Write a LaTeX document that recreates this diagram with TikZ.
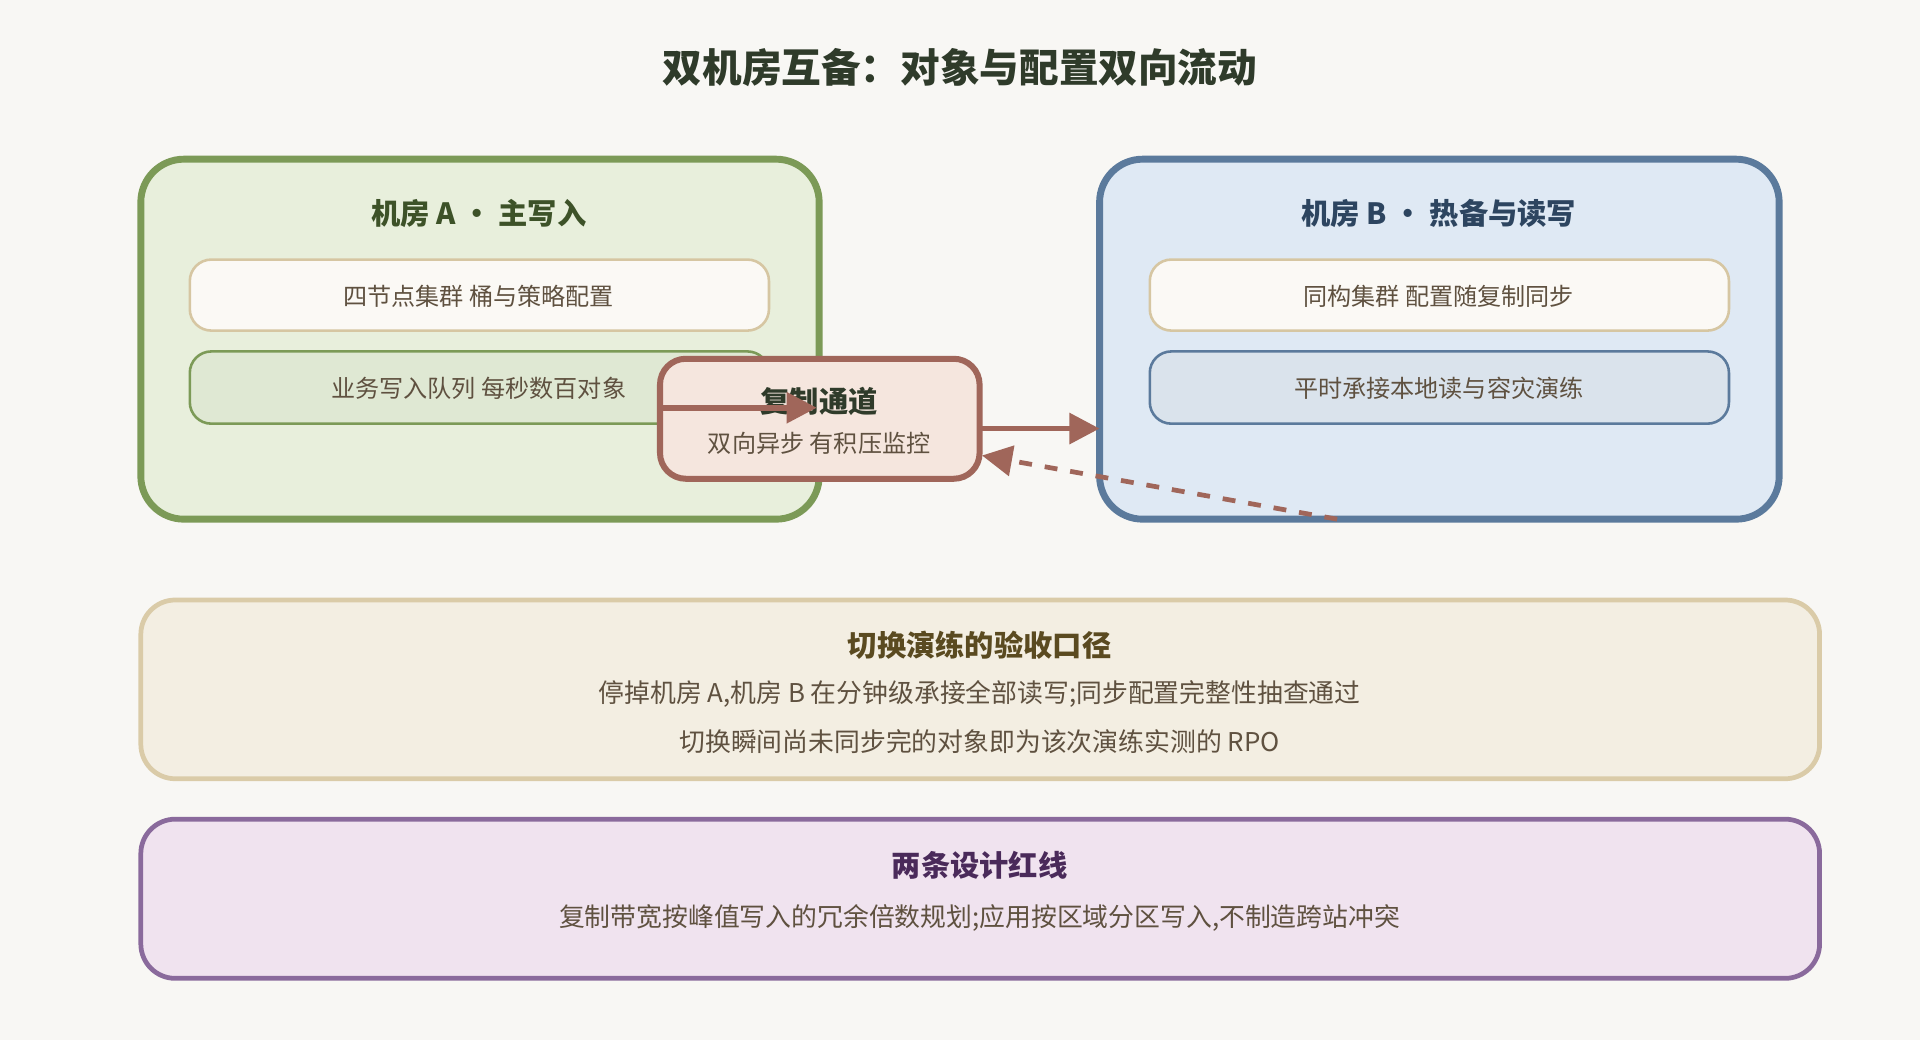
\documentclass[tikz,border=0pt]{standalone}
\usepackage{fontspec}
\setmainfont{Noto Sans CJK SC}
\usetikzlibrary{arrows.meta}
\definecolor{bg}{HTML}{F8F7F4}
\definecolor{title_dark}{HTML}{2F3B2A}
\definecolor{green_fill}{HTML}{E8EFDC}
\definecolor{green_line}{HTML}{7C9A57}
\definecolor{green_text}{HTML}{3D5228}
\definecolor{green_inner}{HTML}{DFE8D3}
\definecolor{blue_fill}{HTML}{DFE9F4}
\definecolor{blue_line}{HTML}{5B7A9C}
\definecolor{blue_text}{HTML}{2D4560}
\definecolor{blue_inner}{HTML}{DAE3EC}
\definecolor{paper_fill}{HTML}{FBF9F5}
\definecolor{paper_line}{HTML}{D6C6A2}
\definecolor{rep_fill}{HTML}{F5E6DE}
\definecolor{rep_line}{HTML}{A0665A}
\definecolor{sand_fill}{HTML}{F3EEE2}
\definecolor{sand_line}{HTML}{DACBA8}
\definecolor{sand_text}{HTML}{5A4A20}
\definecolor{purple_fill}{HTML}{F0E3EF}
\definecolor{purple_line}{HTML}{8A6A9C}
\definecolor{purple_text}{HTML}{4A2A5A}
\definecolor{body_text}{HTML}{5F5140}
\tikzset{
  room/.style={rounded corners=10pt, line width=1.6pt},
  card/.style={rounded corners=5pt, line width=0.6pt},
  hd/.style={font=\fontsize{6.8}{8}\selectfont\bfseries},
  tx/.style={font=\fontsize{5.6}{7}\selectfont, text=body_text},
  txw/.style={font=\fontsize{6.0}{7}\selectfont, text=body_text},
  flow/.style={-{Triangle[length=7pt,width=7pt]}, rep_line, line width=1.3pt}
}
\begin{document}
\begin{tikzpicture}[x=0.01cm,y=-0.01cm]

    % fond
    \fill[bg] (0,0) rectangle (1568,849);
    \node[font=\fontsize{9.2}{11}\selectfont\bfseries, text=title_dark] (title) at (784,55) {双机房互备：对象与配置双向流动};

    % machine room A
    \draw[room, fill=green_fill, draw=green_line] (115,130) rectangle (669,424);
    \node[hd, text=green_text] (roomA) at (391,174) {机房 A · 主写入};
    \draw[card, fill=paper_fill, draw=paper_line] (155,212) rectangle (628,270);
    \node[tx] (clusterA) at (391,242) {四节点集群 桶与策略配置};
    \draw[card, fill=green_inner, draw=green_line] (155,287) rectangle (628,346);
    \node[tx] (queueA) at (391,317) {业务写入队列 每秒数百对象};

    % machine room B
    \draw[room, fill=blue_fill, draw=blue_line] (898,130) rectangle (1453,424);
    \node[hd, text=blue_text] (roomB) at (1175,174) {机房 B · 热备与读写};
    \draw[card, fill=paper_fill, draw=paper_line] (939,212) rectangle (1412,270);
    \node[tx] (clusterB) at (1175,242) {同构集群 配置随复制同步};
    \draw[card, fill=blue_inner, draw=blue_line] (939,287) rectangle (1412,346);
    \node[tx] (readB) at (1175,317) {平时承接本地读与容灾演练};

    % replication channel
    \draw[rounded corners=6pt, line width=1.4pt, fill=rep_fill, draw=rep_line] (539,293) rectangle (800,391);
    \coordinate (repW) at (539,333);
    \coordinate (repIn) at (667,333);
    \coordinate (repE) at (800,350);
    \coordinate (repSE) at (802,372);
    \coordinate (roomBW) at (898,350);
    \coordinate (roomBS) at (1092,424);
    \node[hd, text=title_dark] (repT) at (669,328) {复制通道};
    \node[tx] (repD) at (669,362) {双向异步 有积压监控};
    \draw[flow] (repW) -- (repIn);
    \draw[flow] (repE) -- (roomBW);
    \draw[flow, dashed, line width=1.1pt] (roomBS) -- (repSE);

    % drill
    \draw[rounded corners=8pt, line width=1.1pt, fill=sand_fill, draw=sand_line] (115,490) rectangle (1486,636);
    \node[hd, text=sand_text] (drillT) at (800,527) {切换演练的验收口径};
    \node[txw] (drill1) at (800,567) {停掉机房 A,机房 B 在分钟级承接全部读写;同步配置完整性抽查通过};
    \node[txw] (drill2) at (800,606) {切换瞬间尚未同步完的对象即为该次演练实测的 RPO};

    % red lines
    \draw[rounded corners=8pt, line width=1.1pt, fill=purple_fill, draw=purple_line] (115,669) rectangle (1486,799);
    \node[hd, text=purple_text] (ruleT) at (800,707) {两条设计红线};
    \node[txw] (rule1) at (800,750) {复制带宽按峰值写入的冗余倍数规划;应用按区域分区写入,不制造跨站冲突};
\end{tikzpicture}
\end{document}
